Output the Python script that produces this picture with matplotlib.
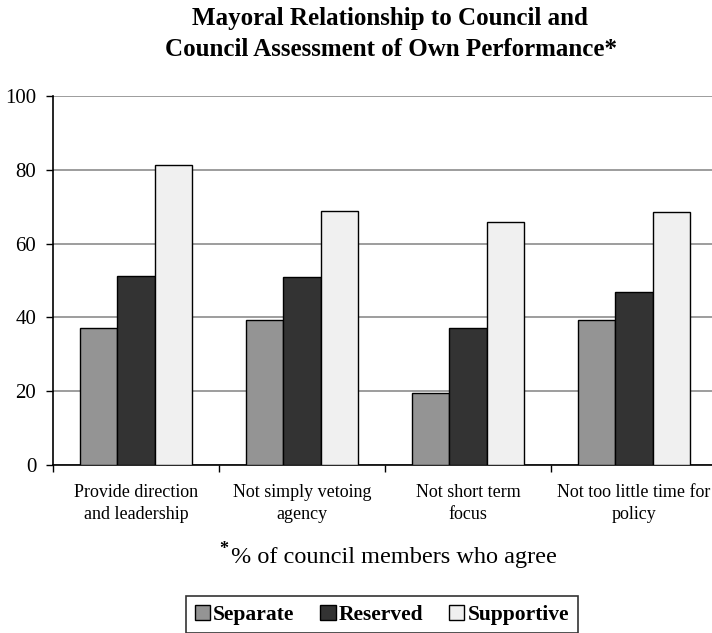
import matplotlib
matplotlib.use("Agg")
import matplotlib.pyplot as plt
from matplotlib.patches import Patch
import numpy as np

# Survey results: % of council members who agree, by mayoral relationship
categorias = ["Provide direction\nand leadership", "Not simply vetoing\nagency",
              "Not short term\nfocus", "Not too little time for\npolicy"]
separate = [37.1, 39.3, 19.5, 39.3]
reserved = [51.2, 50.9, 37.1, 46.9]
supportive = [81.3, 68.9, 65.9, 68.5]

series = ["Separate", "Reserved", "Supportive"]
colores = ["#949494", "#333333", "#f0f0f0"]

plt.rcParams["font.family"] = ["Liberation Serif", "DejaVu Serif"]

fig = plt.figure(figsize=(7.12, 6.33), dpi=100)
ax = fig.add_axes([53 / 712, 1 - 465 / 633, 664 / 712, 369 / 633])

x = np.arange(len(categorias)) + 0.5
w = 0.223
for k, (vals, col) in enumerate(zip([separate, reserved, supportive], colores)):
    ax.bar(x + (k - 1) * w, vals, width=w, color=col, edgecolor="black",
           linewidth=1.0, zorder=3)

ax.set_xlim(0, 4)
ax.set_ylim(0, 100)
ax.set_yticks([0, 20, 40, 60, 80, 100])
ax.yaxis.grid(True, color="#8c8c8c", lw=1.2, zorder=0)
ax.set_xticks([0, 1, 2, 3, 4])
ax.set_xticklabels([])
ax.set_xticks(x, minor=True)
ax.set_xticklabels(categorias, minor=True, fontsize=13, linespacing=1.35)
ax.tick_params(axis="x", which="minor", length=0, pad=14)
ax.tick_params(axis="x", which="major", length=5, width=1, direction="out")
ax.tick_params(axis="y", length=5, width=1, labelsize=15, pad=7)
for s in ["top", "right"]:
    ax.spines[s].set_visible(False)
for s in ["left", "bottom"]:
    ax.spines[s].set_linewidth(1.2)

fig.text(390 / 712, 1 - 18 / 633, "Mayoral Relationship to Council and",
         ha="center", va="center", fontsize=18, fontweight="bold")
fig.text(391 / 712, 1 - 49 / 633, "Council Assessment of Own Performance*",
         ha="center", va="center", fontsize=18, fontweight="bold")

# footnote with a raised bold asterisk
fig.text(224 / 712, 1 - 550 / 633, "*", ha="center", va="center",
         fontsize=13, fontweight="bold")
fig.text(231 / 712, 1 - 563 / 633, "% of council members who agree",
         ha="left", va="baseline", fontsize=17.5)

handles = [Patch(facecolor=c, edgecolor="black", label=s)
           for s, c in zip(series, colores)]
leg = fig.legend(handles=handles, ncol=3, loc="upper center",
                 bbox_to_anchor=(382 / 712, 1 - 596 / 633), frameon=True,
                 fancybox=False, edgecolor="black", handlelength=0.7,
                 handleheight=0.7, handletextpad=0.15, columnspacing=1.2,
                 borderpad=0.4, borderaxespad=0,
                 prop={"weight": "bold", "size": 15.5})
leg.get_frame().set_linewidth(1.2)

fig.savefig("out.png", dpi=100)
